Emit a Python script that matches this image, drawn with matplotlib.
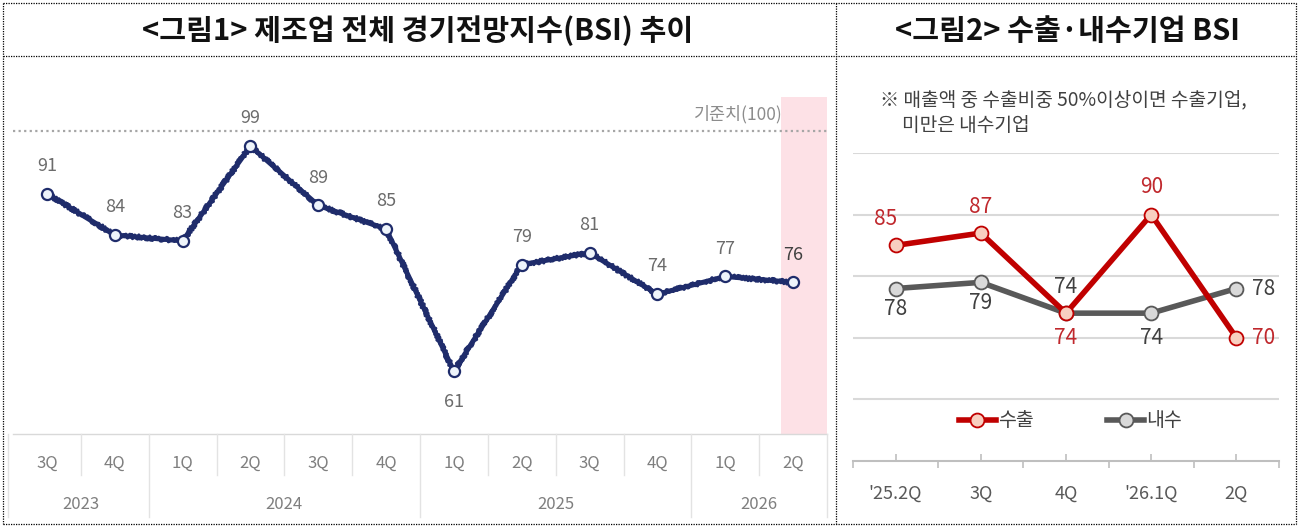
import numpy as np
import matplotlib
matplotlib.use("Agg")
import matplotlib.pyplot as plt
from matplotlib.lines import Line2D
import matplotlib.transforms as mtransforms

plt.rcParams['font.family'] = ['Noto Sans CJK KR', 'DejaVu Sans']

# data: figure 1 (total manufacturing BSI)
quarters = ["3Q", "4Q", "1Q", "2Q", "3Q", "4Q", "1Q", "2Q", "3Q", "4Q", "1Q", "2Q"]
years = ["2023", "2024", "2025", "2026"]
year_counts = [2, 4, 4, 2]
bsi_total = [91, 84, 83, 99, 89, 85, 61, 79, 81, 74, 77, 76]
ref_level = 100

# data: figure 2 (export vs domestic)
periods = ["'25.2Q", "3Q", "4Q", "'26.1Q", "2Q"]
bsi_export = [85, 87, 74, 90, 70]
bsi_domestic = [78, 79, 74, 74, 78]

NAVY = "#1F2C6B"
RED = "#C00000"
DGRAY = "#595959"

fig = plt.figure(figsize=(12.99, 5.27), dpi=100)
W, H = 1299, 527


def box(x0, y0, x1, y1):
    # pixel coords (top-left origin) -> figure fraction
    return [x0 / W, 1 - y1 / H, (x1 - x0) / W, (y1 - y0) / H]


# frame lines
def fline(xs, ys, **kw):
    fig.add_artist(Line2D([x / W for x in xs], [1 - y / H for y in ys],
                          transform=fig.transFigure, color="black", lw=0.9,
                          linestyle=(0, (1, 1)), **kw))


fline([3, 1296], [3, 3])
fline([3, 1296], [524, 524])
fline([3, 3], [3, 524])
fline([1296, 1296], [3, 524])
fline([836, 836], [3, 524])
fline([3, 1296], [56, 56])

fig.text(418 / W, 1 - 31 / H, "<그림1> 제조업 전체 경기전망지수(BSI) 추이",
         ha="center", va="center", fontsize=21, fontweight="bold", color="#111111")
fig.text(1067 / W, 1 - 31 / H, "<그림2> 수출·내수기업 BSI",
         ha="center", va="center", fontsize=21, fontweight="bold", color="#111111")

# ---------------- figure 1 ----------------
ax1 = fig.add_axes(box(13, 97, 827, 434))
x1 = np.arange(len(bsi_total))
ax1.set_xlim(-0.5, len(bsi_total) - 0.5)
ax1.set_ylim(50.4, 107.3)
ax1.axvspan(10.82, 11.5, color="#FDE1E6", lw=0, zorder=0)
# reference line sits slightly above the 100 level in the source picture
lift = ax1.transData + mtransforms.ScaledTranslation(0, 6.5 / 72, fig.dpi_scale_trans)
ax1.plot([-0.5, 11.5], [ref_level, ref_level], transform=lift, color="#A6A6A6",
         lw=1.6, linestyle=(0, (1, 1.5)), zorder=1)
ax1.text(10.85, ref_level + 1.3, "기준치(100)", ha="right", va="bottom",
         fontsize=12.5, color="#8C8C8C", transform=lift)

# solid core plus a rough overlay for the fuzzy edge
ax1.plot(x1, bsi_total, color=NAVY, lw=3.6, zorder=3, solid_joinstyle="round")
rough, = ax1.plot(x1, bsi_total, color=NAVY, lw=2.2, zorder=3)
rough.set_sketch_params(scale=2.2, length=2, randomness=5)
ax1.plot(x1, bsi_total, linestyle="none", marker="o", markersize=8,
         markerfacecolor="#EEF4FB", markeredgecolor=NAVY, markeredgewidth=1.6, zorder=4)

for i, v in enumerate(bsi_total):
    dy = -22 if v == min(bsi_total) else 20
    col = "#404040" if i == len(bsi_total) - 1 else "#6B6B6B"
    ax1.annotate(str(v), (i, v), xytext=(0, dy), textcoords="offset points",
                 ha="center", va="center", fontsize=13, color=col)

for s in ax1.spines.values():
    s.set_visible(False)
ax1.set_xticks([])
ax1.set_yticks([])

trans = mtransforms.blended_transform_factory(ax1.transData, ax1.transAxes)
ax1.add_line(Line2D([-0.5, 11.5], [0, 0], transform=trans, color="#D9D9D9",
                    lw=1, clip_on=False))
for i, q in enumerate(quarters):
    ax1.text(i, -0.086, q, transform=trans, ha="center", va="center",
             fontsize=12, color="#7F7F7F")
edges = np.cumsum([0] + year_counts) - 0.5
for j, yr in enumerate(years):
    ax1.text((edges[j] + edges[j + 1]) / 2, -0.21, yr, transform=trans,
             ha="center", va="center", fontsize=12, color="#7F7F7F")
for k in range(len(quarters) + 1):
    xb = k - 0.5
    if xb in edges:
        ys = [0, -0.246]
        xb = xb - 0.08 if k == 0 else xb
    else:
        ys = [0, -0.122]
    ax1.add_line(Line2D([xb, xb], ys, transform=trans, color="#E3E3E3",
                        lw=1, clip_on=False))

# ---------------- figure 2 ----------------
ax2 = fig.add_axes(box(853, 153, 1279, 461))
x2 = np.arange(len(periods))
ax2.set_xlim(-0.5, len(periods) - 0.5)
ax2.set_ylim(50, 100)
ax2.set_yticks([60, 70, 80, 90, 100])
ax2.yaxis.grid(True, color="#D9D9D9", lw=1.5)
ax2.tick_params(axis="y", length=0, labelleft=False)
ax2.set_axisbelow(True)
for name, s in ax2.spines.items():
    s.set_visible(name == "bottom")
ax2.spines["bottom"].set_color("#BFBFBF")
ax2.spines["bottom"].set_linewidth(1.5)

ax2.set_xticks(x2, periods)
ax2.set_xticks(np.arange(-0.5, len(periods)), minor=True)
ax2.tick_params(axis="x", which="major", direction="in", length=5, width=1.2,
                color="#BFBFBF", pad=17, labelsize=13, labelcolor=DGRAY)
ax2.tick_params(axis="x", which="minor", direction="out", length=5, width=1.2,
                color="#BFBFBF")

ax2.plot(x2, bsi_domestic, color=DGRAY, lw=4, marker="o", markersize=10,
         markerfacecolor="#D9D9D9", markeredgecolor=DGRAY, markeredgewidth=1.3,
         label="내수", zorder=3)
ax2.plot(x2, bsi_export, color=RED, lw=4, marker="o", markersize=10,
         markerfacecolor="#F8CFC0", markeredgecolor=RED, markeredgewidth=1.3,
         label="수출", zorder=4)

exp_off = [(-7, 19), (0, 19), (0, -18), (0, 20), (11, 0)]
dom_off = [(0, -15), (0, -15), (0, 19), (0, -18), (11, 0)]
for i, v in enumerate(bsi_export):
    dx, dy = exp_off[i]
    ax2.annotate(str(v), (i, v), xytext=(dx, dy), textcoords="offset points",
                 ha="left" if dx > 5 else "center", va="center",
                 fontsize=15, color="#C0282D", zorder=5)
for i, v in enumerate(bsi_domestic):
    dx, dy = dom_off[i]
    ax2.annotate(str(v), (i, v), xytext=(dx, dy), textcoords="offset points",
                 ha="left" if dx > 5 else "center", va="center",
                 fontsize=15, color="#404040", zorder=5)

h, l = ax2.get_legend_handles_labels()
ax2.legend(h[::-1], l[::-1], loc="center", bbox_to_anchor=(0.51, 0.13), ncol=2,
           frameon=False, fontsize=14, labelcolor="#404040", handlelength=1.9,
           handletextpad=0.1, columnspacing=3.8)

fig.text(880 / W, 1 - 100 / H, "※ 매출액 중 수출비중 50%이상이면 수출기업,",
         ha="left", va="center", fontsize=13.8, color="#404040")
fig.text(902 / W, 1 - 126 / H, "미만은 내수기업",
         ha="left", va="center", fontsize=13.8, color="#404040")

fig.savefig("out.png", dpi=100)
